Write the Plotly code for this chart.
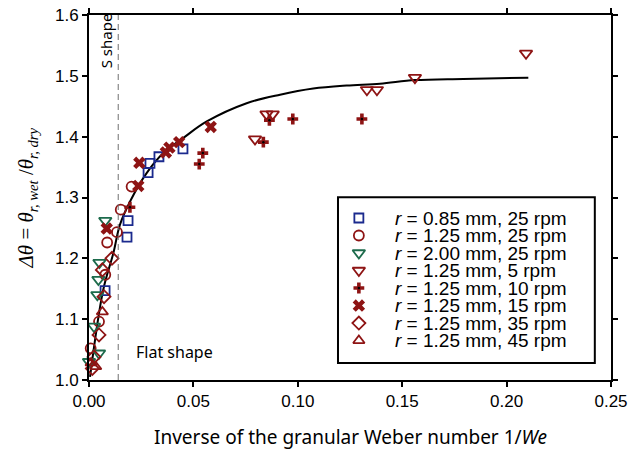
import plotly.graph_objects as go

# ---------------- data ----------------
sq_x = [0.0077, 0.0182, 0.0187, 0.0283, 0.0292, 0.0335, 0.0450]
sq_y = [1.147, 1.235, 1.262, 1.341, 1.356, 1.367, 1.380]

c25_x = [0.0008, 0.0048, 0.0078, 0.0087, 0.0134, 0.0152, 0.0204]
c25_y = [1.052, 1.096, 1.173, 1.226, 1.243, 1.280, 1.318]

g25_x = [0.0000, 0.0048, 0.0024, 0.0040, 0.0045, 0.0050, 0.0078]
g25_y = [1.030, 1.044, 1.088, 1.140, 1.165, 1.193, 1.262]

r5_x = [0.0795, 0.0850, 0.0880, 0.1331, 0.1379, 0.1561, 0.2093]
r5_y = [1.396, 1.437, 1.437, 1.477, 1.477, 1.497, 1.537]

r10_x = [0.0196, 0.0528, 0.0545, 0.0835, 0.0864, 0.0976, 0.1307]
r10_y = [1.284, 1.355, 1.373, 1.391, 1.427, 1.429, 1.429]

r15_x = [0.0085, 0.0236, 0.0241, 0.0368, 0.0385, 0.0432, 0.0583]
r15_y = [1.249, 1.319, 1.357, 1.374, 1.382, 1.391, 1.416]

r35_x = [0.0016, 0.0024, 0.0048, 0.0072, 0.0064, 0.0110]
r35_y = [1.019, 1.038, 1.074, 1.137, 1.181, 1.200]

r45_x = [0.0010, 0.0032, 0.0064]
r45_y = [1.028, 1.022, 1.112]

curve_x = [0.0005, 0.0068, 0.0117, 0.0148, 0.0196, 0.0276, 0.0356, 0.0452,
           0.0564, 0.0755, 0.0915, 0.1074, 0.1234, 0.1394, 0.1561, 0.1793, 0.2104]
curve_y = [1.005, 1.148, 1.209, 1.255, 1.293, 1.340, 1.373, 1.398,
           1.425, 1.455, 1.469, 1.479, 1.484, 1.487, 1.493, 1.495, 1.497]

legend_labels = [
    "<i>r</i> = 0.85 mm, 25 rpm",
    "<i>r</i> = 1.25 mm, 25 rpm",
    "<i>r</i> = 2.00 mm, 25 rpm",
    "<i>r</i> = 1.25 mm, 5 rpm",
    "<i>r</i> = 1.25 mm, 10 rpm",
    "<i>r</i> = 1.25 mm, 15 rpm",
    "<i>r</i> = 1.25 mm, 35 rpm",
    "<i>r</i> = 1.25 mm, 45 rpm",
]

x_ticks = [0.00, 0.05, 0.10, 0.15, 0.20, 0.25]
y_ticks = [1.0, 1.1, 1.2, 1.3, 1.4, 1.5, 1.6]
flat_s_boundary = 0.014

# ---------------- styles ----------------
BLUE = "#1b2a8e"
RED = "#8e1414"
GREEN = "#1d6b4c"

styles = [
    dict(symbol="square-open", size=9, color=BLUE, line=dict(width=1.8, color=BLUE)),
    dict(symbol="circle-open", size=10, color=RED, line=dict(width=1.8, color=RED)),
    dict(symbol="triangle-down-open", size=11, color=GREEN, line=dict(width=1.8, color=GREEN)),
    dict(symbol="triangle-down-open", size=11, color=RED, line=dict(width=1.8, color=RED)),
    dict(symbol="cross", size=9, color=RED, line=dict(width=0)),
    dict(symbol="x", size=11, color=RED, line=dict(width=0)),
    dict(symbol="diamond-open", size=10, color=RED, line=dict(width=1.8, color=RED)),
    dict(symbol="triangle-up-open", size=10, color=RED, line=dict(width=1.8, color=RED)),
]
series = [(sq_x, sq_y), (c25_x, c25_y), (g25_x, g25_y), (r5_x, r5_y),
          (r10_x, r10_y), (r15_x, r15_y), (r35_x, r35_y), (r45_x, r45_y)]

fig = go.Figure()

fig.add_trace(go.Scatter(x=curve_x, y=curve_y, mode="lines", line_shape="spline",
                         line=dict(color="black", width=2), showlegend=False,
                         hoverinfo="skip"))

for (xs, ys), st, lab in zip(series, styles, legend_labels):
    fig.add_trace(go.Scatter(x=xs, y=ys, mode="markers", marker=st, name=lab,
                             showlegend=False, cliponaxis=False))
    if st["symbol"] == "cross":
        fig.add_trace(go.Scatter(x=xs, y=ys, mode="markers",
                                 marker=dict(symbol="circle", size=2.5, color="black"),
                                 showlegend=False, cliponaxis=False, hoverinfo="skip"))

# ---------------- custom legend (tight rows like the original) ----------------
row0 = 0.4438
dy = 0.04795
key_x = 0.517
text_x = 0.5824
for i, (st, lab) in enumerate(zip(styles, legend_labels)):
    yy = row0 - i * dy
    fig.add_trace(go.Scatter(x=[key_x], y=[yy], xaxis="x2", yaxis="y2", mode="markers",
                             marker=st, showlegend=False, hoverinfo="skip", cliponaxis=False))
    if st["symbol"] == "cross":
        fig.add_trace(go.Scatter(x=[key_x], y=[yy], xaxis="x2", yaxis="y2", mode="markers",
                                 marker=dict(symbol="circle", size=2.5, color="black"),
                                 showlegend=False, hoverinfo="skip", cliponaxis=False))
    fig.add_annotation(x=text_x, y=yy, xref="paper", yref="paper", text=lab,
                       showarrow=False, xanchor="left", yanchor="middle",
                       font=dict(family="Liberation Sans, Arial", size=19, color="black"))

fig.add_shape(type="rect", xref="paper", yref="paper", x0=0.477, x1=0.969,
              y0=0.0466, y1=0.501, line=dict(color="black", width=2),
              fillcolor="rgba(0,0,0,0)")

# dashed boundary line
fig.add_shape(type="line", xref="x", yref="paper", x0=flat_s_boundary, x1=flat_s_boundary,
              y0=0, y1=1, line=dict(color="#707070", width=1, dash="6px,4px"))

fig.add_annotation(x=0.0326, y=0.928, xref="paper", yref="paper", text="S shape",
                   textangle=-90, showarrow=False, xanchor="center", yanchor="middle",
                   font=dict(family="Noto Sans, Open Sans", size=15, color="black"))
fig.add_annotation(x=0.1638, y=0.0767, xref="paper", yref="paper", text="Flat shape",
                   showarrow=False, xanchor="center", yanchor="middle",
                   font=dict(family="Noto Sans, Open Sans", size=16, color="black"))

# axis titles
fig.add_annotation(x=0.5, y=-0.156, xref="paper", yref="paper",
                   text="Inverse of the granular Weber number 1/<i>We</i>",
                   showarrow=False, xanchor="center", yanchor="middle",
                   font=dict(family="Noto Sans, Open Sans", size=19, color="black"))
fig.add_annotation(x=-0.1188, y=0.5, xref="paper", yref="paper",
                   text="<i>Δθ</i> = <i>θ</i><sub><i>r, wet</i></sub> /<i>θ</i><sub><i>r, dry</i></sub>",
                   textangle=-90, showarrow=False, xanchor="center", yanchor="middle",
                   font=dict(family="Liberation Serif, Times New Roman", size=21, color="black"))

axis_common = dict(showline=True, linecolor="black", linewidth=2, mirror="ticks",
                   ticks="outside", ticklen=5, tickwidth=2, tickcolor="black",
                   showgrid=False, zeroline=False, automargin=False,
                   tickfont=dict(family="Liberation Sans, Arial", size=17, color="black"))

fig.update_layout(
    width=628, height=454, autosize=False,
    margin=dict(l=89, r=17, t=15, b=74, autoexpand=False),
    paper_bgcolor="white", plot_bgcolor="white",
    showlegend=False,
    xaxis=dict(range=[0, 0.25], tickvals=x_ticks,
               ticktext=[f"{v:.2f}" for v in x_ticks], **axis_common),
    yaxis=dict(range=[1.0, 1.6], tickvals=y_ticks,
               ticktext=[f"{v:.1f}" for v in y_ticks], **axis_common),
    xaxis2=dict(overlaying="x", range=[0, 1], visible=False, fixedrange=True),
    yaxis2=dict(overlaying="y", range=[0, 1], visible=False, fixedrange=True),
)

fig.write_html("out.html", config={"displayModeBar": False},
               post_script="document.body.style.margin='0';")
